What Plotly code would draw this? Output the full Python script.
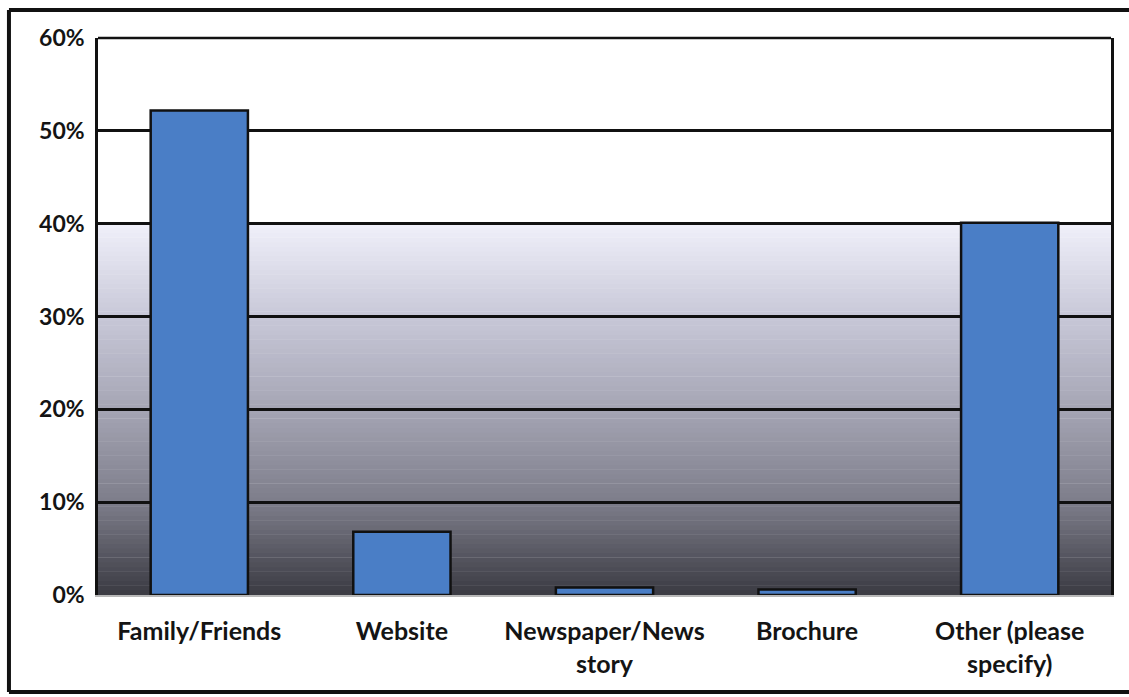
import plotly.graph_objects as go

categories = ["Family/Friends", "Website", "Newspaper/News<br>story", "Brochure", "Other (please<br>specify)"]
values = [52.2, 6.8, 0.8, 0.6, 40.1]
tick_vals = [0, 10, 20, 30, 40, 50, 60]
tick_text = ["0%", "10%", "20%", "30%", "40%", "50%", "60%"]

bar_color = "#4a7ec6"
font_family = "Lato, 'Open Sans', sans-serif"
text_color = "#141414"

fig = go.Figure()
fig.add_trace(go.Bar(
    x=categories, y=values,
    marker=dict(color=bar_color, line=dict(color="#111111", width=2.5)),
    hoverinfo="skip",
))

# background gradient (white above 40%, darkening toward 0%)
def lerp(c1, c2, t):
    return tuple(round(a + (b - a) * t) for a, b in zip(c1, c2))

stops = [(0.0, (58, 58, 66)), (0.25, (125, 125, 138)), (0.5, (165, 165, 180)),
         (0.75, (200, 200, 216)), (1.0, (240, 240, 250))]

def grad(t):
    for (t0, c0), (t1, c1) in zip(stops[:-1], stops[1:]):
        if t0 <= t <= t1:
            return lerp(c0, c1, (t - t0) / (t1 - t0))
    return stops[-1][1]

shapes = []
n = 80
for i in range(n):
    y0 = 40 * i / n
    y1 = 40 * (i + 1) / n + 0.05
    c = grad((i + 0.5) / n)
    shapes.append(dict(type="rect", xref="x domain", yref="y", x0=0, x1=1, y0=y0, y1=min(y1, 40),
                       fillcolor="rgb(%d,%d,%d)" % c, line=dict(width=0), layer="below"))
# top border of plot area
shapes.append(dict(type="line", xref="x domain", yref="y domain", x0=0, x1=1, y0=1, y1=1,
                   line=dict(color="#111111", width=2.5), layer="above"))
# outer frame: left, top, bottom edges (right edge lies outside the image)
fl, ft, fb, fr = -0.0879, 1.0503, -0.1741, 1.0178
frame = dict(color="#111111", width=4)
shapes.append(dict(type="line", xref="paper", yref="paper", x0=fl, x1=fl, y0=fb, y1=ft, line=frame, layer="above"))
shapes.append(dict(type="line", xref="paper", yref="paper", x0=fl, x1=fr, y0=ft, y1=ft, line=frame, layer="above"))
shapes.append(dict(type="line", xref="paper", yref="paper", x0=fl, x1=fr, y0=fb, y1=fb, line=frame, layer="above"))

fig.update_layout(
    width=1129, height=697,
    margin=dict(l=98, r=18, t=38, b=102),
    paper_bgcolor="white", plot_bgcolor="white",
    bargap=0.52, showlegend=False,
    shapes=shapes,
    font=dict(family=font_family, size=23, color=text_color),
    xaxis=dict(showline=True, linecolor="#b8b8b8", linewidth=2, mirror=False,
               ticks="", ticklabelstandoff=13,
               tickfont=dict(family=font_family, size=25, color=text_color, weight="bold"),
               showgrid=False),
    yaxis=dict(range=[0, 60], tickvals=tick_vals, ticktext=tick_text,
               showline=True, linecolor="#111111", linewidth=2.5, mirror=True,
               showgrid=True, gridcolor="#111111", gridwidth=2.5, zeroline=False,
               ticks="", ticklabelstandoff=6,
               tickfont=dict(family=font_family, size=23, color=text_color, weight="bold")),
)

fig.write_html("out.html", config={"displayModeBar": False},
               post_script="document.body.style.margin='0';document.body.style.overflow='hidden';")
